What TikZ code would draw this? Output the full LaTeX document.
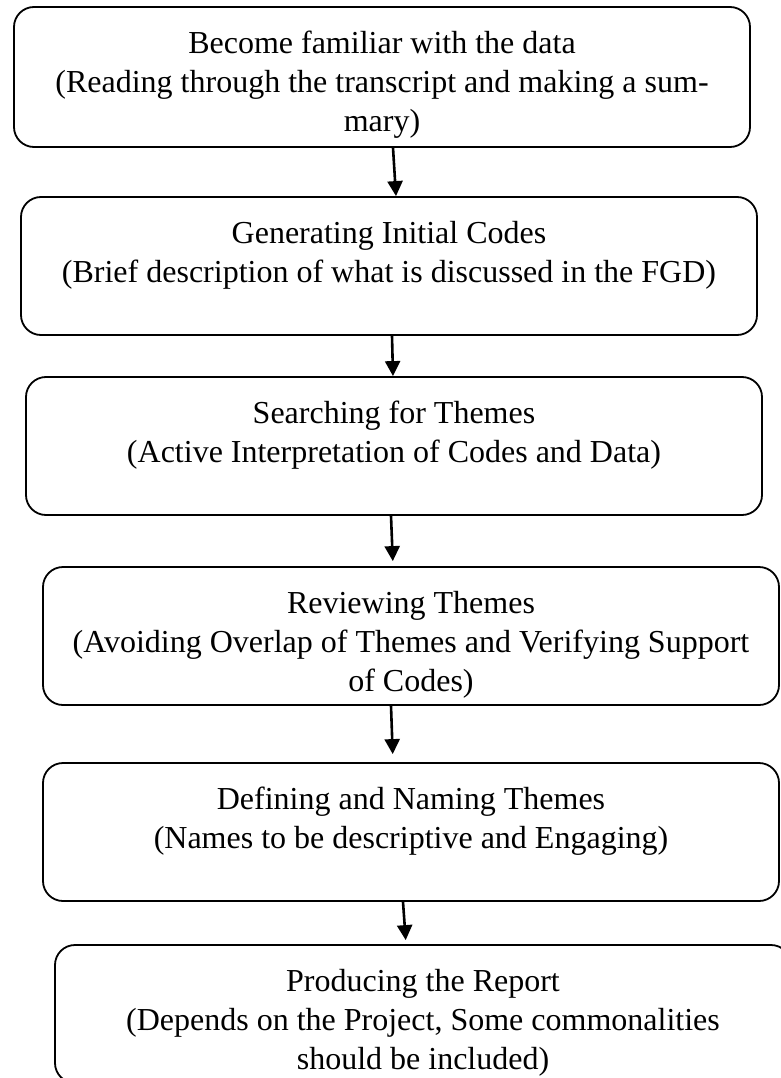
\documentclass[tikz,border=0pt]{standalone}
\usepackage{fontspec}
\setmainfont{Liberation Serif}
\usetikzlibrary{arrows.meta}
\newcommand{\stepbody}[1]{\parbox[c][138pt][t]{720pt}{\centering\rule{0pt}{46pt}#1}}

\begin{document}
\begin{tikzpicture}[x=1pt,y=-1pt,
  stepbox/.style={draw,line width=1.8pt,rounded corners=20pt,minimum width=736pt,minimum height=138pt,inner sep=0pt,font=\fontsize{32pt}{39pt}\selectfont},
  flow/.style={line width=2.6pt,-{Triangle[width=15pt,length=15pt]}}]
\clip (0,0) rectangle (781,1078);
\fill[white] (0,0) rectangle (781,1078);
\node[stepbox,minimum height=140pt] (S1) at (382,77) {\stepbody{Become familiar with the data\\(Reading through the transcript and making a sum-\\mary)}};
\node[stepbox] (S2) at (389,266) {\stepbody{Generating Initial Codes\\(Brief description of what is discussed in the FGD)}};
\node[stepbox] (S3) at (394,446) {\stepbody{Searching for Themes\\(Active Interpretation of Codes and Data)}};
\node[stepbox] (S4) at (411,636) {\stepbody{Reviewing Themes\\(Avoiding Overlap of Themes and Verifying Support\\of Codes)}};
\node[stepbox] (S5) at (411,832) {\stepbody{Defining and Naming Themes\\(Names to be descriptive and Engaging)}};
\node[stepbox] (S6) at (423,1014) {\stepbody{Producing the Report\\(Depends on the Project, Some commonalities\\should be included)}};

\draw[flow] ([xshift=11pt]S1.south) -- ([xshift=7pt]S2.north);
\draw[flow] ([xshift=3pt]S2.south) -- ([xshift=-1pt]S3.north);
\draw[flow,shorten >=5pt] ([xshift=-3pt]S3.south) -- ([xshift=-18pt]S4.north);
\draw[flow,shorten >=8pt] ([xshift=-20pt]S4.south) -- ([xshift=-18pt]S5.north);
\draw[flow,shorten >=4pt] ([xshift=-8pt]S5.south) -- ([xshift=-17pt]S6.north);
\end{tikzpicture}
\end{document}
